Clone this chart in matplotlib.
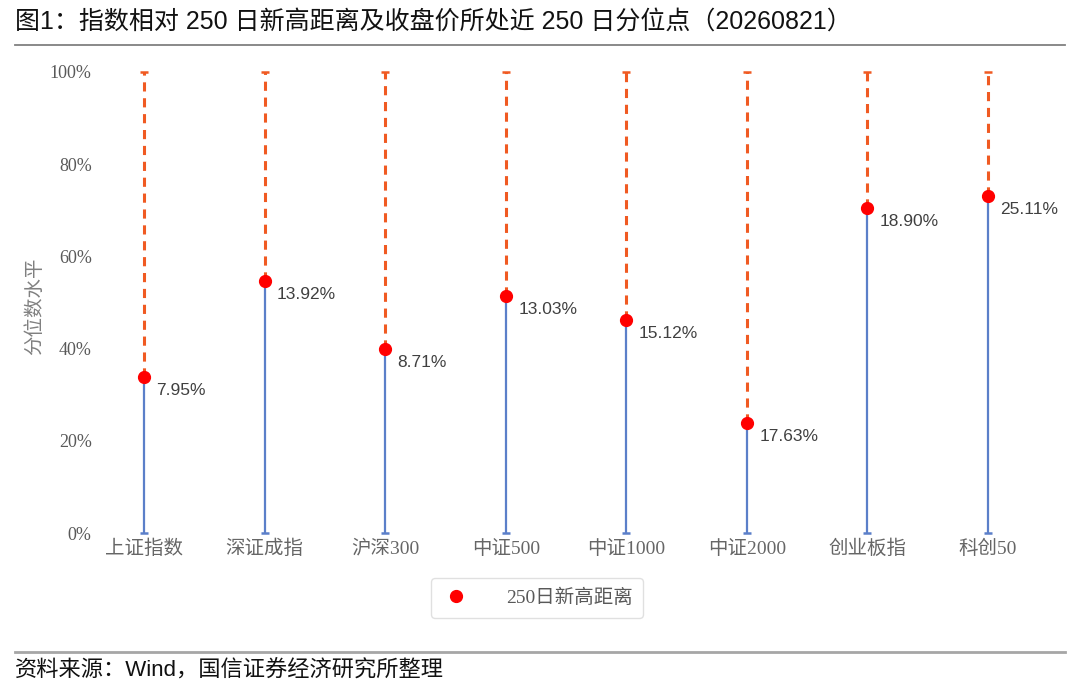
import matplotlib
matplotlib.use("Agg")
import matplotlib.pyplot as plt
from matplotlib.lines import Line2D

plt.rcParams['font.family'] = ['Noto Sans CJK SC', 'DejaVu Sans']

categories = ['上证指数', '深证成指', '沪深300', '中证500', '中证1000', '中证2000', '创业板指', '科创50']
percentile = [0.338, 0.547, 0.399, 0.514, 0.462, 0.239, 0.705, 0.731]
distance = [7.95, 13.92, 8.71, 13.03, 15.12, 17.63, 18.90, 25.11]
yticks = [0, 0.2, 0.4, 0.6, 0.8, 1.0]
ytick_labels = ['0%', '20%', '40%', '60%', '80%', '100%']

W, H = 1080, 691
fig = plt.figure(figsize=(W / 100, H / 100), dpi=100)

ax_left, ax_right = 100, 1040
ax_top, ax_bot = 72, 533
ax = fig.add_axes([ax_left / W, 1 - ax_bot / H, (ax_right - ax_left) / W, (ax_bot - ax_top) / H])
spacing = 120.57
x0 = -(144 - ax_left) / spacing
ax.set_xlim(x0, x0 + (ax_right - ax_left) / spacing)
ax.set_ylim(0, 1)

blue = '#5B7FC9'
orange = '#F05A22'
red = '#FF0000'

xs = list(range(len(categories)))
ax.vlines(xs, 0, percentile, color=blue, lw=1.6, zorder=2)
ax.vlines(xs, percentile, 1, color=orange, lw=2.2, linestyles=(0, (3.0, 2.2)), zorder=2)
ax.plot(xs, [0] * len(xs), ls='none', marker='_', ms=6, mew=1.8, color=blue, clip_on=False, zorder=3)
ax.plot(xs, [1] * len(xs), ls='none', marker='_', ms=6, mew=1.8, color=orange, clip_on=False, zorder=3)
ax.plot(xs, percentile, ls='none', marker='o', ms=8.5, color=red, clip_on=False, zorder=4)

for x, p, d in zip(xs, percentile, distance):
    ax.annotate(f'{d:.2f}%', (x, p), xytext=(9, -9.5), textcoords='offset points',
                ha='left', va='center', fontsize=12.5, color='#404040',
                family=['Liberation Sans', 'DejaVu Sans'])

ax.set_xticks(xs)
ax.set_xticklabels(categories, family=['Liberation Serif', 'Noto Sans CJK SC'], fontsize=14, color='#666666')
ax.set_yticks(yticks)
ax.set_yticklabels(ytick_labels, family=['Liberation Serif', 'DejaVu Sans'], fontsize=13, color='#595959')
ax.tick_params(axis='both', length=0)
ax.tick_params(axis='y', pad=6)
ax.tick_params(axis='x', pad=5)
for s in ax.spines.values():
    s.set_visible(False)

fig.text(35 / W, 1 - 306 / H, '分位数水平', rotation=90, ha='center', va='center',
         fontsize=14, color='#808080')

handle = Line2D([], [], ls='none', marker='o', ms=8.5, color=red)
leg = fig.legend([handle], ['250日新高距离'], loc='center', bbox_to_anchor=(537 / W, 1 - 598 / H),
                 frameon=True, fancybox=True, edgecolor='#d9d9d9', handletextpad=1.8,
                 borderpad=0.55, prop={'family': ['Liberation Serif', 'Noto Sans CJK SC'], 'size': 14},
                 handlelength=1.5, borderaxespad=0)
for t in leg.get_texts():
    t.set_color('#595959')

fig.text(15 / W, 1 - 22 / H, '图1：指数相对 250 日新高距离及收盘价所处近 250 日分位点（20260821）',
         ha='left', va='center', fontsize=18, color='#111111', weight='medium',
         family=['Liberation Sans', 'Noto Sans CJK SC'])
fig.add_artist(Line2D([15 / W, 1065 / W], [1 - 45 / H, 1 - 45 / H], color='#808080', lw=1.3))
fig.add_artist(Line2D([15 / W, 1065 / W], [1 - 652 / H, 1 - 652 / H], color='#a6a6a6', lw=2))
fig.text(15 / W, 1 - 671 / H, '资料来源：Wind，国信证券经济研究所整理', ha='left', va='center',
         fontsize=16, color='#111111', family=['Liberation Sans', 'Noto Sans CJK SC'])

fig.savefig('out.png', dpi=100)
